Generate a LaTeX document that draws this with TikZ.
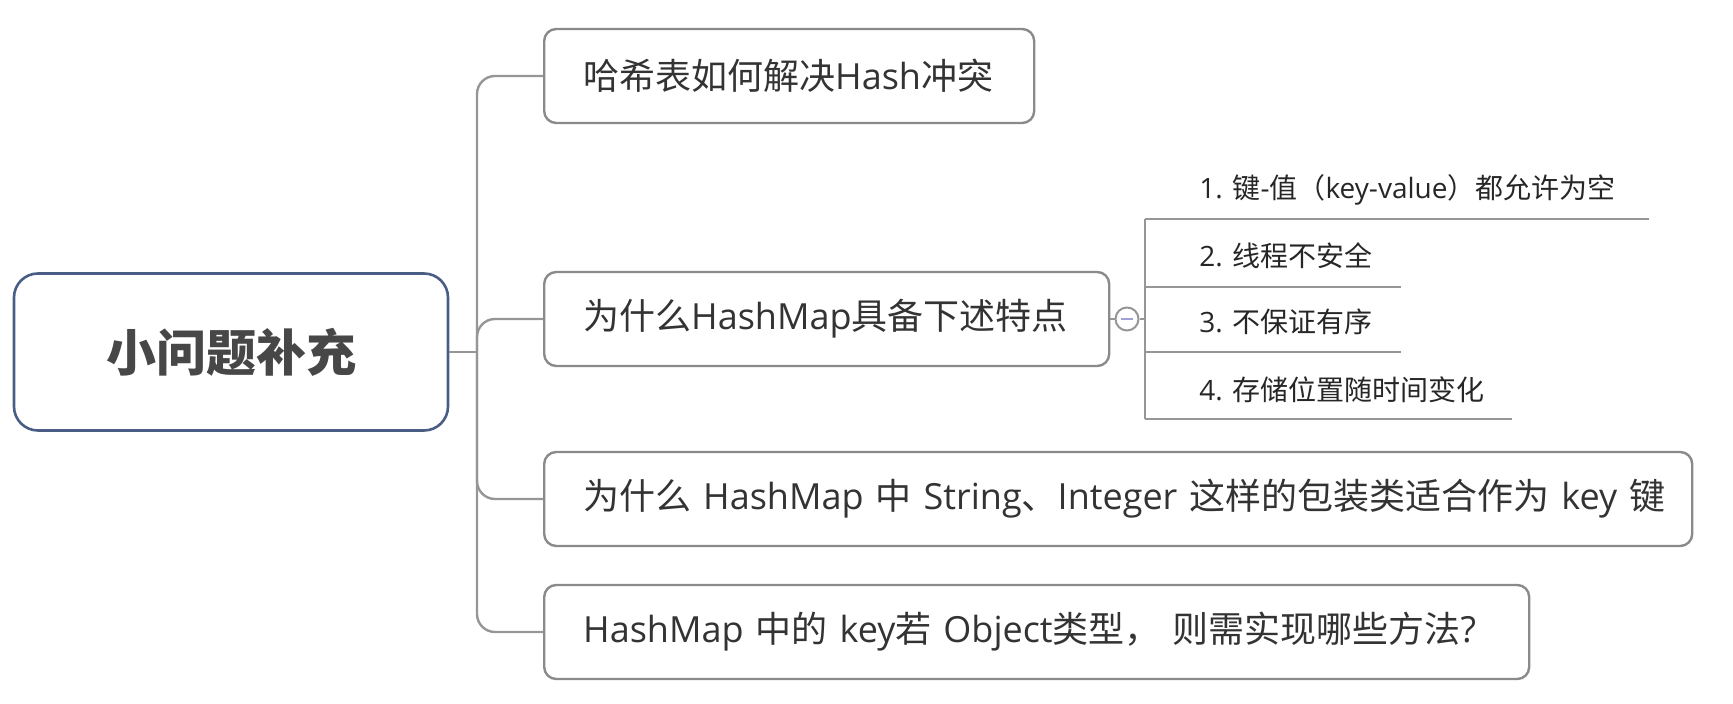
\documentclass[tikz,border=0pt]{standalone}
\usepackage{fontspec}
\setmainfont{Noto Sans CJK SC}
\newfontfamily\lat{Open Sans}
\usetikzlibrary{positioning}
\definecolor{branch-grey}{RGB}{150,150,150}
\definecolor{topic-grey}{RGB}{138,138,138}
\definecolor{root-blue}{RGB}{73,93,133}
\definecolor{text-dark}{RGB}{51,51,51}
\definecolor{fold-purple}{RGB}{160,160,215}

\begin{document}
\begin{tikzpicture}[x=0.5pt, y=-0.5pt,
    link/.style={draw=branch-grey, line width=1.2pt},
    topic/.style={draw=topic-grey, line width=1.2pt, rounded corners=6pt, anchor=west,
        minimum height=47pt, inner xsep=19.5pt, align=left, text=text-dark,
        font=\fontsize{18}{21}\selectfont},
    item/.style={anchor=west, inner sep=0pt, text=black!85, font=\fontsize{14}{17}\selectfont}]
    \useasboundingbox (0,0) rectangle (1733,704);
    \node[draw=root-blue, line width=1.3pt, rounded corners=12pt, minimum width=217pt,
        minimum height=78.5pt, text=black!72, font=\fontsize{25}{30}\selectfont\bfseries]
        (root) at (231,352) {小问题补充};
    \node[topic, text width=206pt] (hash) at (543,76) {哈希表如何解决{\lat Hash}冲突};
    \node[topic, text width=243.5pt] (traits) at (543,319) {为什么{\lat HashMap}具备下述特点};
    \node[topic, text width=535pt] (wrapper) at (543,499) {\mbox{为什么 {\lat HashMap} 中 {\lat String}、{\lat Integer} 这样的包装类适合作为 {\lat key} 键}};
    \node[topic, text width=453.5pt] (object) at (543,632) {\mbox{{\lat HashMap} 中的 {\lat key}若 {\lat Object}类型， 则需实现哪些方法{\lat ?}}};

    \coordinate (trunk) at (477,352);
    \draw[link] (root.east) -- (trunk);
    \foreach \t in {hash,traits,wrapper,object}
        \draw[link, rounded corners=9pt] (trunk) |- (\t.west);

    \node[item] (nulls) at (1199,190) {{\lat 1. }键{\lat -}值（{\lat key-value}）都允许为空};
    \node[item] (unsafe) at (1199,256) {{\lat 2. }线程不安全};
    \node[item] (unordered) at (1199,322) {{\lat 3. }不保证有序};
    \node[item] (moving) at (1199,390) {{\lat 4. }存储位置随时间变化};

    \coordinate (fork) at (1145,319);
    \coordinate (u1) at (1145,219);
    \coordinate (u2) at (1145,287);
    \coordinate (u3) at (1145,352);
    \coordinate (u4) at (1145,419);
    \coordinate (e1) at (1649,219);
    \coordinate (e2) at (1401,287);
    \coordinate (e3) at (1401,352);
    \coordinate (e4) at (1512,419);
    \node[circle, draw=branch-grey, line width=1pt, fill=white, minimum size=11.5pt,
        inner sep=0pt] (fold) at (1127,319) {};
    \draw[link] (traits.east) -- (fold.west);
    \draw[link] (fold.east) -- (fork);
    \draw[link] (u1) -- (u4);
    \foreach \i in {1,...,4}
        \draw[link] (u\i) -- (e\i);
    \draw[fold-purple, line width=1.1pt] ([xshift=-3pt]fold.center) -- ([xshift=3pt]fold.center);
\end{tikzpicture}
\end{document}
